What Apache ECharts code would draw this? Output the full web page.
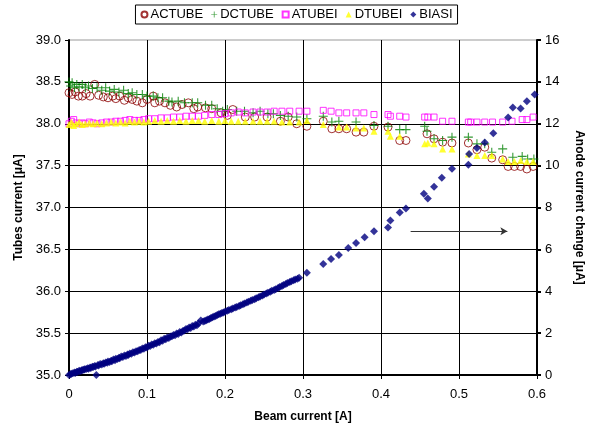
<!DOCTYPE html>
<html>
<head>
<meta charset="utf-8">
<script src="https://cdn.jsdelivr.net/npm/echarts@6/dist/echarts.min.js"></script>
<style>html,body{margin:0;padding:0;background:#fff;}#c{width:593px;height:428px;}</style>
</head>
<body>
<div id="c"></div>
<script>
// Data: [beam current A, value]
const seriesNames = ['ACTUBE', 'DCTUBE', 'ATUBEI', 'DTUBEI', 'BIASI'];
const xTicks = [0, 0.1, 0.2, 0.3, 0.4, 0.5, 0.6];

const ACTUBE = [
 [0.000,38.37],[0.004,38.35],[0.008,38.38],[0.012,38.33],[0.017,38.33],[0.022,38.36],[0.027,38.33],[0.033,38.47],
 [0.038,38.34],[0.044,38.32],[0.050,38.31],[0.056,38.33],[0.060,38.30],[0.065,38.33],[0.071,38.28],[0.076,38.31],
 [0.081,38.29],[0.087,38.27],[0.094,38.25],[0.100,38.29],[0.108,38.33],[0.110,38.25],[0.116,38.27],[0.123,38.25],
 [0.130,38.22],[0.138,38.20],[0.145,38.23],[0.153,38.25],[0.160,38.18],[0.165,38.20],[0.175,38.19],[0.183,38.18],
 [0.195,38.13],[0.203,38.10],[0.210,38.17],[0.226,38.08],[0.238,38.08],[0.254,38.08],[0.271,38.03],[0.281,38.08],
 [0.292,38.00],[0.305,37.97],[0.326,38.03],[0.337,37.94],[0.346,37.94],[0.356,37.94],[0.368,37.90],[0.378,37.90],
 [0.391,37.97],[0.409,37.96],[0.424,37.80],[0.432,37.80],[0.459,37.88],[0.468,37.82],[0.479,37.78],[0.491,37.77],
 [0.512,37.77],[0.523,37.69],[0.533,37.72],[0.542,37.59],[0.556,37.57],[0.563,37.49],[0.571,37.49],[0.579,37.49],
 [0.587,37.46],[0.595,37.49]
];
const DCTUBE = [
 [0.000,38.50],[0.002,38.45],[0.004,38.49],[0.007,38.43],[0.010,38.47],[0.013,38.44],[0.017,38.47],[0.021,38.43],
 [0.025,38.45],[0.030,38.42],[0.036,38.43],[0.042,38.40],[0.047,38.43],[0.052,38.39],[0.058,38.41],[0.064,38.38],
 [0.070,38.40],[0.076,38.36],[0.081,38.37],[0.087,38.35],[0.094,38.35],[0.100,38.33],[0.108,38.33],[0.114,38.31],
 [0.120,38.31],[0.128,38.27],[0.132,38.26],[0.140,38.27],[0.148,38.25],[0.158,38.25],[0.165,38.25],[0.175,38.22],
 [0.183,38.22],[0.190,38.18],[0.197,38.15],[0.203,38.17],[0.215,38.15],[0.225,38.15],[0.236,38.13],[0.245,38.15],
 [0.255,38.12],[0.262,38.12],[0.271,38.10],[0.281,38.09],[0.292,38.08],[0.305,38.06],[0.326,38.09],[0.337,38.02],
 [0.346,38.03],[0.368,38.02],[0.391,37.98],[0.409,37.97],[0.424,37.93],[0.432,37.93],[0.456,37.97],[0.459,37.91],
 [0.468,37.82],[0.479,37.80],[0.491,37.84],[0.512,37.84],[0.523,37.76],[0.533,37.76],[0.542,37.66],[0.556,37.70],
 [0.569,37.60],[0.581,37.61],[0.588,37.58],[0.596,37.58]
];
const ATUBEI = [
 [0.000,38.00],[0.003,38.03],[0.006,38.05],[0.009,38.01],[0.013,38.00],[0.017,38.01],[0.021,38.00],[0.026,38.02],
 [0.031,38.01],[0.036,38.00],[0.042,38.01],[0.048,38.02],[0.054,38.02],[0.060,38.03],[0.066,38.03],[0.072,38.04],
 [0.078,38.05],[0.084,38.04],[0.090,38.04],[0.096,38.05],[0.102,38.06],[0.110,38.06],[0.118,38.07],[0.126,38.07],
 [0.134,38.08],[0.142,38.08],[0.150,38.09],[0.158,38.09],[0.166,38.09],[0.174,38.10],[0.183,38.11],[0.192,38.11],
 [0.200,38.12],[0.208,38.13],[0.217,38.14],[0.226,38.13],[0.236,38.14],[0.245,38.14],[0.254,38.14],[0.263,38.15],
 [0.273,38.15],[0.283,38.15],[0.295,38.15],[0.305,38.15],[0.326,38.16],[0.336,38.15],[0.346,38.13],[0.356,38.13],
 [0.368,38.13],[0.378,38.13],[0.391,38.11],[0.409,38.11],[0.412,38.09],[0.424,38.09],[0.432,38.08],[0.456,38.08],
 [0.460,38.08],[0.468,38.08],[0.479,38.03],[0.491,38.03],[0.512,38.02],[0.515,38.02],[0.523,38.02],[0.533,38.02],
 [0.543,38.02],[0.556,38.02],[0.568,38.03],[0.581,38.05],[0.587,38.05],[0.595,38.08]
];
const DTUBEI = [
 [0.000,37.99],[0.003,38.02],[0.006,37.98],[0.009,38.00],[0.013,38.02],[0.017,37.99],[0.021,38.00],[0.026,38.01],
 [0.031,38.00],[0.036,38.01],[0.042,38.00],[0.048,38.01],[0.054,38.02],[0.060,38.01],[0.066,38.02],[0.072,38.01],
 [0.078,38.03],[0.084,38.02],[0.090,38.03],[0.096,38.02],[0.102,38.03],[0.110,38.04],[0.118,38.03],[0.126,38.04],
 [0.134,38.03],[0.142,38.04],[0.150,38.03],[0.158,38.04],[0.166,38.04],[0.174,38.03],[0.183,38.04],[0.192,38.03],
 [0.200,38.04],[0.208,38.03],[0.217,38.03],[0.226,38.03],[0.236,38.03],[0.245,38.03],[0.254,38.03],[0.263,38.03],
 [0.273,38.02],[0.283,38.02],[0.295,38.02],[0.305,38.04],[0.326,37.99],[0.346,37.96],[0.356,37.96],[0.368,37.95],
 [0.378,37.95],[0.391,37.91],[0.409,37.91],[0.412,37.85],[0.424,37.85],[0.456,37.76],[0.460,37.77],[0.468,37.76],
 [0.479,37.70],[0.491,37.70],[0.512,37.64],[0.523,37.62],[0.533,37.62],[0.542,37.62],[0.556,37.58],[0.563,37.55],
 [0.571,37.55],[0.579,37.56],[0.587,37.55],[0.595,37.55]
];
const BIASI = [
 [0.000,0.00],[0.002,0.03],[0.003,0.06],[0.005,0.08],[0.007,0.12],[0.008,0.10],[0.010,0.15],[0.011,0.14],
 [0.013,0.20],[0.014,0.18],[0.016,0.21],[0.017,0.24],[0.019,0.25],[0.020,0.28],[0.022,0.29],[0.024,0.32],
 [0.025,0.30],[0.027,0.36],[0.028,0.33],[0.030,0.40],[0.031,0.38],[0.033,0.43],[0.034,0.41],[0.035,0.00],
 [0.037,0.48],[0.038,0.45],[0.040,0.52],[0.042,0.50],[0.044,0.56],[0.045,0.54],[0.047,0.60],[0.049,0.58],
 [0.050,0.64],[0.052,0.62],[0.054,0.68],[0.055,0.66],[0.057,0.74],[0.059,0.70],[0.060,0.78],[0.062,0.76],
 [0.064,0.82],[0.065,0.80],[0.067,0.88],[0.069,0.86],[0.071,0.93],[0.073,0.91],[0.075,0.98],[0.076,0.96],
 [0.078,1.03],[0.080,1.01],[0.082,1.09],[0.084,1.08],[0.086,1.14],[0.088,1.13],[0.090,1.20],[0.092,1.19],
 [0.094,1.27],[0.096,1.25],[0.098,1.33],[0.100,1.31],[0.102,1.40],[0.104,1.38],[0.106,1.46],[0.108,1.44],
 [0.110,1.52],[0.112,1.51],[0.114,1.58],[0.116,1.56],[0.118,1.66],[0.120,1.64],[0.122,1.73],[0.124,1.71],
 [0.126,1.79],[0.128,1.77],[0.130,1.84],[0.132,1.85],[0.134,1.91],[0.136,1.90],[0.138,1.98],[0.140,1.96],
 [0.142,2.05],[0.144,2.03],[0.146,2.10],[0.148,2.12],[0.150,2.20],[0.152,2.18],[0.154,2.27],[0.156,2.25],
 [0.158,2.34],[0.160,2.32],[0.162,2.40],[0.164,2.38],[0.166,2.46],[0.169,2.60],[0.172,2.55],[0.174,2.58],
 [0.176,2.62],[0.178,2.65],[0.180,2.68],[0.182,2.72],[0.184,2.76],[0.186,2.79],[0.188,2.82],[0.190,2.86],
 [0.192,2.90],[0.194,2.93],[0.196,2.96],[0.198,2.99],[0.200,3.02],[0.203,3.07],[0.205,3.10],[0.208,3.14],
 [0.210,3.18],[0.213,3.22],[0.215,3.25],[0.218,3.30],[0.220,3.33],[0.223,3.38],[0.225,3.42],[0.228,3.46],
 [0.230,3.50],[0.233,3.55],[0.235,3.58],[0.238,3.62],[0.240,3.66],[0.243,3.71],[0.245,3.75],[0.248,3.80],
 [0.250,3.85],[0.253,3.89],[0.255,3.93],[0.258,3.98],[0.260,4.02],[0.263,4.06],[0.265,4.10],[0.268,4.15],
 [0.270,4.20],[0.273,4.25],[0.275,4.30],[0.278,4.35],[0.280,4.40],[0.283,4.44],[0.285,4.48],[0.288,4.52],
 [0.290,4.56],[0.293,4.60],[0.295,4.64],[0.305,4.88],[0.326,5.30],[0.336,5.54],[0.346,5.73],
 [0.358,6.06],[0.368,6.30],[0.379,6.58],[0.391,6.86],[0.409,7.05],[0.412,7.38],[0.424,7.76],[0.432,7.95],
 [0.455,8.66],[0.460,8.43],[0.468,8.99],[0.478,9.42],[0.491,9.85],[0.512,10.04],[0.513,10.56],[0.523,10.84],
 [0.533,11.10],[0.544,11.55],[0.563,12.30],[0.569,12.78],[0.579,12.73],[0.587,13.07],[0.597,13.40]
];
// Arrow annotation (points to right axis), in data coordinates of the right axis
const arrowFrom = [0.438, 6.86];
const arrowTo = [0.562, 6.86];

const FONT = 'Liberation Sans';
const PLUS = 'path://M4.4,0 H5.6 V4.4 H10 V5.6 H5.6 V10 H4.4 V5.6 H0 V4.4 H4.4 Z';

const chart = echarts.init(document.getElementById('c'), null, {renderer: 'canvas'});
chart.setOption({
  animation: false,
  backgroundColor: '#fff',
  textStyle: {fontFamily: FONT},
  legend: {
    top: 5, left: 'center',
    data: seriesNames,
    borderColor: '#000', borderWidth: 1,
    padding: [3, 5],
    itemGap: 8,
    itemWidth: 6, itemHeight: 6,
    textStyle: {fontFamily: FONT, fontSize: 13, color: '#000', padding: [0, 0, 0, -2]}
  },
  grid: {left: 69, right: 56, top: 40, bottom: 50, show: true, borderColor: '#999', borderWidth: 1},
  xAxis: {
    type: 'value', min: 0, max: 0.6, interval: 0.1,
    name: 'Beam current [A]', nameLocation: 'middle', nameGap: 36,
    nameTextStyle: {fontFamily: FONT, fontSize: 12, fontWeight: 'bold', color: '#000'},
    axisLine: {show: true, onZero: false, lineStyle: {color: '#000', width: 2}},
    axisTick: {show: true, length: 4, lineStyle: {color: '#000', width: 1}},
    axisLabel: {margin: 13, fontSize: 13, color: '#000', fontFamily: FONT,
      formatter: v => String(Math.round(v * 10) / 10)},
    splitLine: {show: true, lineStyle: {color: '#000', width: 1}}
  },
  yAxis: [{
    type: 'value', min: 35, max: 39, interval: 0.5, position: 'left',
    name: 'Tubes current [μA]', nameLocation: 'middle', nameGap: 43,
    nameTextStyle: {fontFamily: FONT, fontSize: 12, fontWeight: 'bold', color: '#000'},
    axisLine: {show: true, lineStyle: {color: '#000', width: 2}},
    axisTick: {show: true, length: 4, lineStyle: {color: '#000', width: 1}},
    axisLabel: {margin: 8, fontSize: 13, color: '#000', fontFamily: FONT, formatter: v => v.toFixed(1)},
    splitLine: {show: true, showMaxLine: false, lineStyle: {color: '#000', width: 1}}
  }, {
    type: 'value', min: 0, max: 16, interval: 2, position: 'right',
    name: 'Anode current change [μA]', nameLocation: 'middle', nameGap: 36, nameRotate: -90,
    nameTextStyle: {fontFamily: FONT, fontSize: 12, fontWeight: 'bold', color: '#000'},
    axisLine: {show: true, lineStyle: {color: '#000', width: 2}},
    axisTick: {show: true, length: 4, lineStyle: {color: '#000', width: 2}},
    axisLabel: {margin: 8, fontSize: 13, color: '#000', fontFamily: FONT},
    splitLine: {show: false}
  }],
  series: [
    {name: 'ACTUBE', type: 'scatter', data: ACTUBE, symbol: 'circle', symbolSize: 8,
      itemStyle: {color: 'rgba(0,0,0,0)', borderColor: '#8B0000', borderWidth: 1}},
    {name: 'DCTUBE', type: 'scatter', data: DCTUBE, symbol: PLUS, symbolSize: 9,
      itemStyle: {color: '#008000'}},
    {name: 'ATUBEI', type: 'scatter', data: ATUBEI, symbol: 'rect', symbolSize: 6,
      itemStyle: {color: 'rgba(0,0,0,0)', borderColor: '#FF00FF', borderWidth: 1}},
    {name: 'DTUBEI', type: 'scatter', data: DTUBEI, symbol: 'triangle', symbolSize: 7,
      itemStyle: {color: '#FFFF00'}},
    {name: 'BIASI', type: 'scatter', yAxisIndex: 1, data: BIASI, symbol: 'diamond', symbolSize: 8,
      itemStyle: {color: '#000080'},
      markLine: {
        silent: true, symbol: ['none', 'arrow'], symbolSize: [6, 7],
        label: {show: false},
        lineStyle: {color: '#333', width: 1, type: 'solid'},
        data: [[{coord: arrowFrom}, {coord: arrowTo}]]
      }}
  ]
});
</script>
</body>
</html>
